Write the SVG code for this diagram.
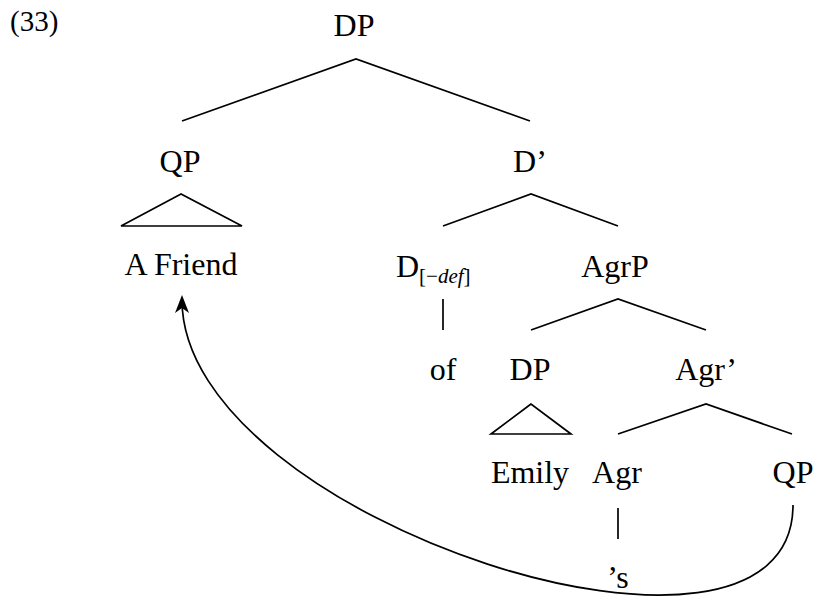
<svg xmlns="http://www.w3.org/2000/svg" width="817" height="597" viewBox="0 0 817 597">
<defs>
<marker id="arr" viewBox="0 0 18 14" refX="13" refY="7" markerWidth="18" markerHeight="14" markerUnits="userSpaceOnUse" orient="auto">
<path d="M0,0 L18,7 L0,14 L5,7 Z" fill="#000"/>
</marker>
</defs>
<rect width="817" height="597" fill="#fff"/>
<g id="connectors" fill="none" stroke="#000" stroke-width="1.7">
<polyline points="182,121 356,59 530,121"/>
<polygon points="181,194 121,226 242,226"/>
<polyline points="443,226 531,194 618,226"/>
<line x1="443" y1="299" x2="443" y2="330"/>
<polyline points="531,330 618,299 706,330"/>
<polygon points="531,404 491,434 571,434"/>
<polyline points="618,434 706,404 792,434"/>
<line x1="618" y1="508" x2="618" y2="539"/>
<path d="M793,505 C793,715 182,521 182,300" marker-end="url(#arr)"/>
</g>
<g font-family="Liberation Serif" font-size="32" fill="#000" text-anchor="middle">
<text x="10" y="31" font-size="29" text-anchor="start">(33)</text>
<g id="n-dp-top"><text x="354" y="36">DP</text></g>
<g id="n-qp"><text x="180" y="172">QP</text></g>
<g id="n-dbar"><text x="530" y="172">D’</text></g>
<g id="n-afriend"><text x="181" y="275">A Friend</text></g>
<g id="n-d"><text x="396" y="277" text-anchor="start">D<tspan font-size="21" dy="6">[−<tspan font-style="italic">def</tspan>]</tspan></text></g>
<g id="n-agrp"><text x="615" y="277">AgrP</text></g>
<g id="n-of"><text x="443" y="380">of</text></g>
<g id="n-dp"><text x="530" y="380">DP</text></g>
<g id="n-agrbar"><text x="706" y="380">Agr’</text></g>
<g id="n-emily"><text x="530" y="483">Emily</text></g>
<g id="n-agr"><text x="617" y="483">Agr</text></g>
<g id="n-qp2"><text x="793" y="483">QP</text></g>
<g id="n-s"><text x="618" y="588">’s</text></g>
</g>
</svg>
